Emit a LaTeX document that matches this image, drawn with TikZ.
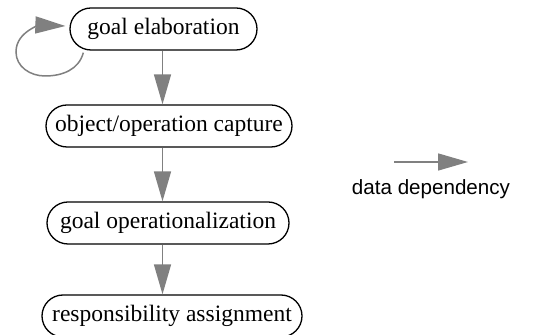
\documentclass[tikz,border=0pt]{standalone}
\usepackage{fontspec}
\setmainfont{Liberation Serif}
\setsansfont{Liberation Sans}
\usetikzlibrary{arrows.meta,calc}

\tikzset{
  task/.style={draw,line width=0.65pt,rounded corners=10.5pt,minimum height=21pt,
    inner xsep=4pt,inner ysep=0pt,font=\fontsize{11.75}{14}\selectfont},
  dep/.style={draw=gray,line width=0.75pt,-{Triangle[length=15pt,width=8.5pt]}}
}

\begin{document}
\begin{tikzpicture}[x=0.5pt,y=-0.5pt]
\useasboundingbox (0,0) rectangle (535,335);

\node[task,minimum width=93.5pt] (elab) at (163.5,29) {goal elaboration};
\node[task,minimum width=123pt] (capture) at (169,126) {object/operation capture};
\node[task,minimum width=121pt] (oper) at (168,223) {goal operationalization};
\node[task,minimum width=130pt] (assign) at (172,316) {responsibility assignment};

\coordinate (axis) at (162.5,0);
\draw[dep] (elab.south -| axis) -- (capture.north -| axis);
\draw[dep] (capture.south -| axis) -- (oper.north -| axis);
\draw[dep] (oper.south -| axis) -- (assign.north -| axis);

% self loop
\draw[dep] ($(elab.south west)+(14,2)$) to[out=-105,in=0] (45,76)
  to[out=180,in=-90] (16,52) to[out=90,in=178] ($(elab.west)+(-4,-3)$);

% legend
\coordinate (ls) at (394,162);
\coordinate (le) at (468,162);
\draw[dep] (ls) -- (le);
\node[font=\sffamily\fontsize{10.3}{12}\selectfont,anchor=base] (legend) at (431,195) {data dependency};
\end{tikzpicture}
\end{document}
